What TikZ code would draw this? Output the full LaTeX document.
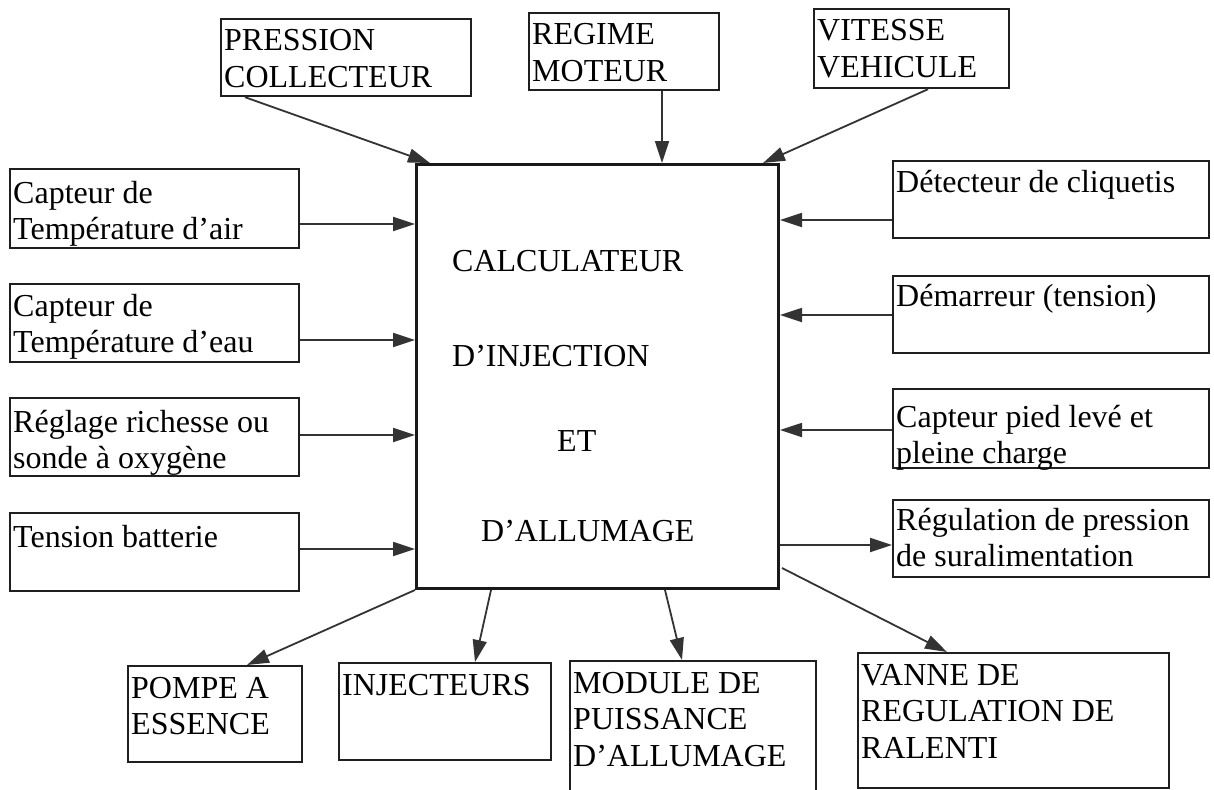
\documentclass[tikz,border=0pt]{standalone}
\usepackage{fontspec}
\setmainfont{Liberation Serif}
\usetikzlibrary{arrows.meta,calc}
\newcommand{\mkbox}[7]{%
  \node[box, minimum width=#4, minimum height=#5] (#1) at (#2,-#3) {};
  \node[lbl] (#1-t) at ($(#1.north west)+(4,-#6)$) {\begin{tabular}[t]{@{}l@{}}#7\end{tabular}};}
\begin{document}
\begin{tikzpicture}[x=1pt,y=1pt,
  box/.style={draw=black!88, line width=2.2pt, anchor=north west, inner sep=0pt},
  mainbox/.style={draw=black!90, line width=3pt, anchor=north west, inner sep=0pt},
  lbl/.style={anchor=base west, inner sep=0pt, text=black,
    font=\fontsize{32}{36.5}\selectfont},
  arr/.style={draw=black!80, line width=1.8pt, -{Triangle[length=22pt,width=14pt]}}]
\useasboundingbox (0,0) rectangle (1214,-789);
\fill[white] (0,0) rectangle (1214,-789);

% central unit
\node[mainbox, minimum width=362, minimum height=424] (main) at (415,-163) {};
\node[lbl] (m1) at (452,-271) {CALCULATEUR};
\node[lbl] (m2) at (452,-366) {D’INJECTION};
\node[lbl] (m3) at (557,-451) {ET};
\node[lbl] (m4) at (481,-541) {D’ALLUMAGE};

% top boxes
\mkbox{press}{220}{18}{250}{77}{33}{PRESSION\\COLLECTEUR}
\mkbox{regime}{528}{12}{190}{77}{33}{REGIME\\MOTEUR}
\mkbox{vit}{813}{8}{195}{79}{33}{VITESSE\\VEHICULE}

% left boxes
\mkbox{air}{9}{168}{289}{79}{35}{Capteur de\\Température d’air}
\mkbox{eau}{9}{283}{289}{78}{33}{Capteur de\\Température d’eau}
\mkbox{rich}{9}{397}{289}{78}{35}{Réglage richesse ou\\sonde à oxygène}
\mkbox{batt}{9}{512}{289}{78}{35}{Tension batterie}

% right boxes
\mkbox{det}{892}{160}{316}{77}{32}{Détecteur de cliquetis}
\mkbox{dem}{892}{275}{316}{77}{31}{Démarreur (tension)}
\mkbox{pied}{892}{388}{316}{79}{39}{Capteur pied levé et\\pleine charge}
\mkbox{regul}{892}{499}{316}{77}{31}{Régulation de pression\\de suralimentation}

% bottom boxes
\mkbox{pompe}{127}{665}{174}{96}{33}{POMPE A\\ESSENCE}
\mkbox{inj}{338}{662}{212}{97}{33}{INJECTEURS}
\mkbox{mod}{569}{660}{246}{150}{33}{MODULE DE\\PUISSANCE\\D’ALLUMAGE}
\mkbox{vanne}{857}{652}{311}{135}{33}{VANNE DE\\REGULATION DE\\RALENTI}

% inputs from top
\draw[arr] ($(press.south west)+(25,0)$) -- ($(main.north west)+(15,0)$);
\coordinate (r0) at ($(regime.south west)+(134,0)$);
\draw[arr] (r0) -- (r0 |- main.north);
\draw[arr] ($(vit.south west)+(115,0)$) -- ($(main.north east)+(-17,0)$);

% inputs from left
\coordinate (a1) at ($(air.north east)+(0,-56)$);
\coordinate (a2) at ($(eau.north east)+(0,-57)$);
\coordinate (a3) at ($(rich.north east)+(0,-38)$);
\coordinate (a4) at ($(batt.north east)+(0,-37)$);
\draw[arr] (a1) -- (a1 -| main.west);
\draw[arr] (a2) -- (a2 -| main.west);
\draw[arr] (a3) -- (a3 -| main.west);
\draw[arr] (a4) -- (a4 -| main.west);

% inputs from right
\coordinate (b1) at ($(det.north west)+(0,-60)$);
\coordinate (b2) at ($(dem.north west)+(0,-40)$);
\coordinate (b3) at ($(pied.north west)+(0,-42)$);
\draw[arr] (b1) -- (b1 -| main.east);
\draw[arr] (b2) -- (b2 -| main.east);
\draw[arr] (b3) -- (b3 -| main.east);

% outputs
\coordinate (c1) at ($(regul.north west)+(0,-46)$);
\draw[arr] (c1 -| main.east) -- (c1);
\draw[arr] (main.south west) -- ($(pompe.north west)+(120,0)$);
\draw[arr] ($(main.south west)+(76,0)$) -- ($(inj.north west)+(137,0)$);
\draw[arr] ($(main.south west)+(250,0)$) -- ($(mod.north west)+(113,0)$);
\draw[arr] ($(main.south east)+(2,22)$) -- ($(vanne.north west)+(90,0)$);
\end{tikzpicture}
\end{document}
